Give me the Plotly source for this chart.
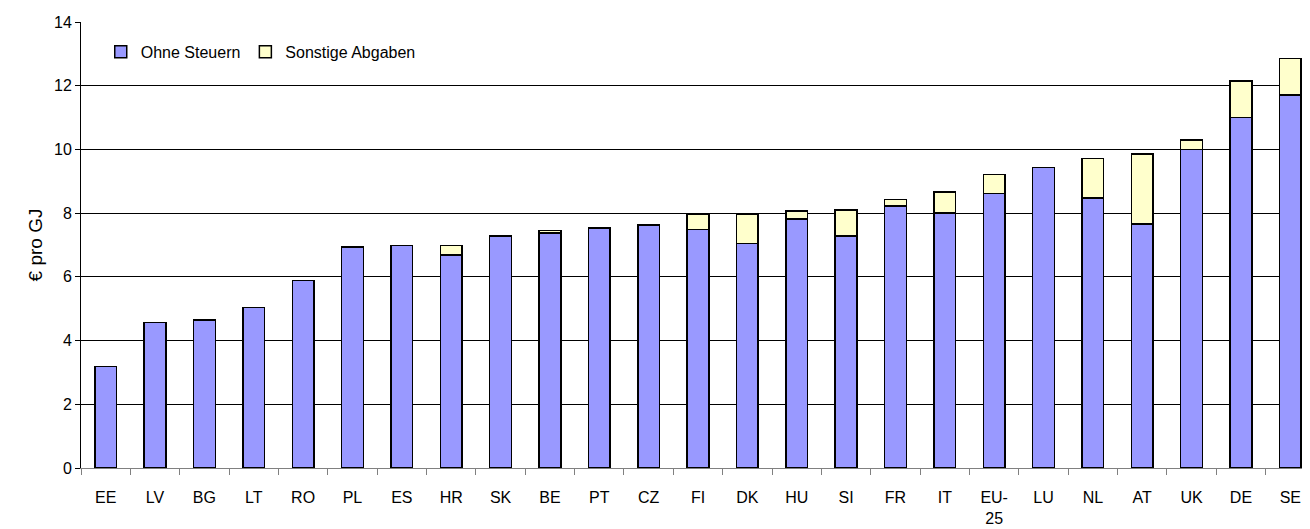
import plotly.graph_objects as go

# ── Data ──
countries = ["EE", "LV", "BG", "LT", "RO", "PL", "ES", "HR", "SK", "BE", "PT", "CZ",
             "FI", "DK", "HU", "SI", "FR", "IT", "EU-25", "LU", "NL", "AT", "UK", "DE", "SE"]
tick_labels = [c if c != "EU-25" else "EU-<br>25" for c in countries]

ohne_steuern = [3.18, 4.56, 4.65, 5.04, 5.88, 6.94, 6.98, 6.68, 7.29, 7.38, 7.53, 7.63,
                7.48, 7.05, 7.82, 7.28, 8.22, 8.00, 8.62, 9.43, 8.48, 7.66, 10.00, 11.00, 11.71]
sonstige_abgaben = [0, 0, 0, 0, 0, 0, 0, 0.30, 0, 0.07, 0, 0,
                    0.48, 0.90, 0.24, 0.82, 0.21, 0.66, 0.59, 0, 1.23, 2.20, 0.29, 1.15, 1.15]

COLORS = {"blue": "#9999FF", "yellow": "#FFFFCC", "text": "#000000"}

fig = go.Figure()
fig.add_trace(go.Bar(
    x=countries, y=ohne_steuern, name="Ohne Steuern",
    marker=dict(color=COLORS["blue"], line=dict(color="#000000", width=1.5)),
))
fig.add_trace(go.Bar(
    x=countries, y=sonstige_abgaben, name="Sonstige Abgaben",
    marker=dict(color=COLORS["yellow"], line=dict(color="#000000", width=1.5)),
))

# page body has an 8px margin, so the margins are shifted to compensate
fig.update_layout(
    barmode="stack",
    bargap=0.56,
    width=1310,
    height=529,
    plot_bgcolor="white",
    paper_bgcolor="white",
    font=dict(family="Liberation Sans, Arial, sans-serif", size=16, color=COLORS["text"]),
    margin=dict(l=73, r=3, t=14, b=69),
    showlegend=True,
    legend=dict(
        orientation="h",
        x=0.016, y=0.933, xanchor="left", yanchor="middle",
        bgcolor="rgba(0,0,0,0)",
        font=dict(size=16),
        itemwidth=30,
        traceorder="normal",
    ),
)
fig.update_xaxes(
    tickmode="array", tickvals=countries, ticktext=tick_labels,
    tickson="boundaries", ticks="outside", ticklen=6, tickcolor="#808080",
    ticklabelstandoff=15,
    showline=True, linecolor="#808080", linewidth=1,
    showgrid=False,
)
fig.update_yaxes(
    range=[0, 14], dtick=2,
    showgrid=True, gridcolor="#000000", gridwidth=1,
    ticks="outside", ticklen=5, tickcolor="#000000",
    showline=True, linecolor="#000000", linewidth=1,
    zeroline=False,
    title=dict(text="€ pro GJ", standoff=6),
)

fig.write_html("out.html")
